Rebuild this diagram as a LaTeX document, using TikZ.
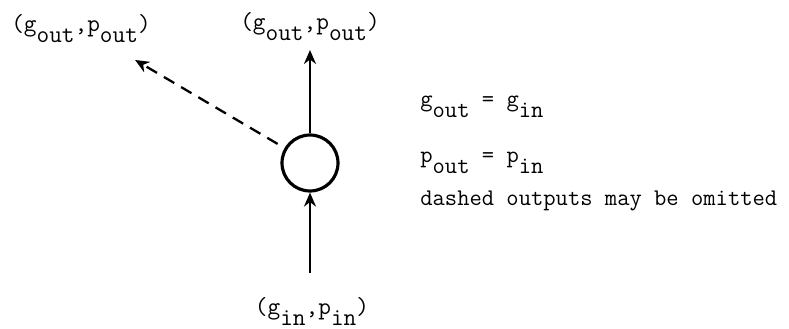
\documentclass[tikz,border=0pt]{standalone}
\usepackage{fontspec}
\usetikzlibrary{
  arrows.meta,
  positioning
}
\newcommand\lowsub[1]{\raisebox{-0.45em}{#1}}

\begin{document}
\begin{tikzpicture}[
  junction/.style={
    draw,
    circle,
    line width=1.8pt,
    minimum size=11.2mm,
    inner sep=0pt
  },
  lbl/.style={
    font=\ttfamily\fontsize{14}{16}\selectfont,
    inner sep=0pt
  },
  note/.style={
    font=\ttfamily\fontsize{13.6}{15}\selectfont,
    anchor=base west,
    inner sep=0pt
  },
  arrow/.style={
    -{Stealth[length=2.8mm,width=2.4mm]},
    line width=1.3pt
  }
]
\useasboundingbox (-6.2,-3.32) rectangle (9.58,3.26);

\node[junction] (r) at (0,0) {};

\node[lbl] (top) at (0,2.72)
  {(g\lowsub{out},p\lowsub{out})};
\node[lbl] (tl) at (-4.58,2.68)
  {(g\lowsub{out},p\lowsub{out})};
\node[lbl] (bot) at (0.04,-2.96)
  {(g\lowsub{in},p\lowsub{in})};

\coordinate (otip) at (0,2.26);
\coordinate (dtip) at (149.5:4.06);
\coordinate (src) at (0,-2.2);

\node[note] (eq1) at (2.2,1.12) {g\lowsub{out} = g\lowsub{in}};
\node[note] (eq2) at (2.2,0) {p\lowsub{out} = p\lowsub{in}};
\node[note] (omit) at (2.2,-0.86) {dashed outputs may be omitted};

\draw[arrow] (src) -- (r);
\draw[arrow] (r) -- (otip);
\draw[arrow,dash pattern=on 2.4mm off 1.6mm,shorten <=1.6mm]
  (r) -- (dtip);

\end{tikzpicture}
\end{document}
